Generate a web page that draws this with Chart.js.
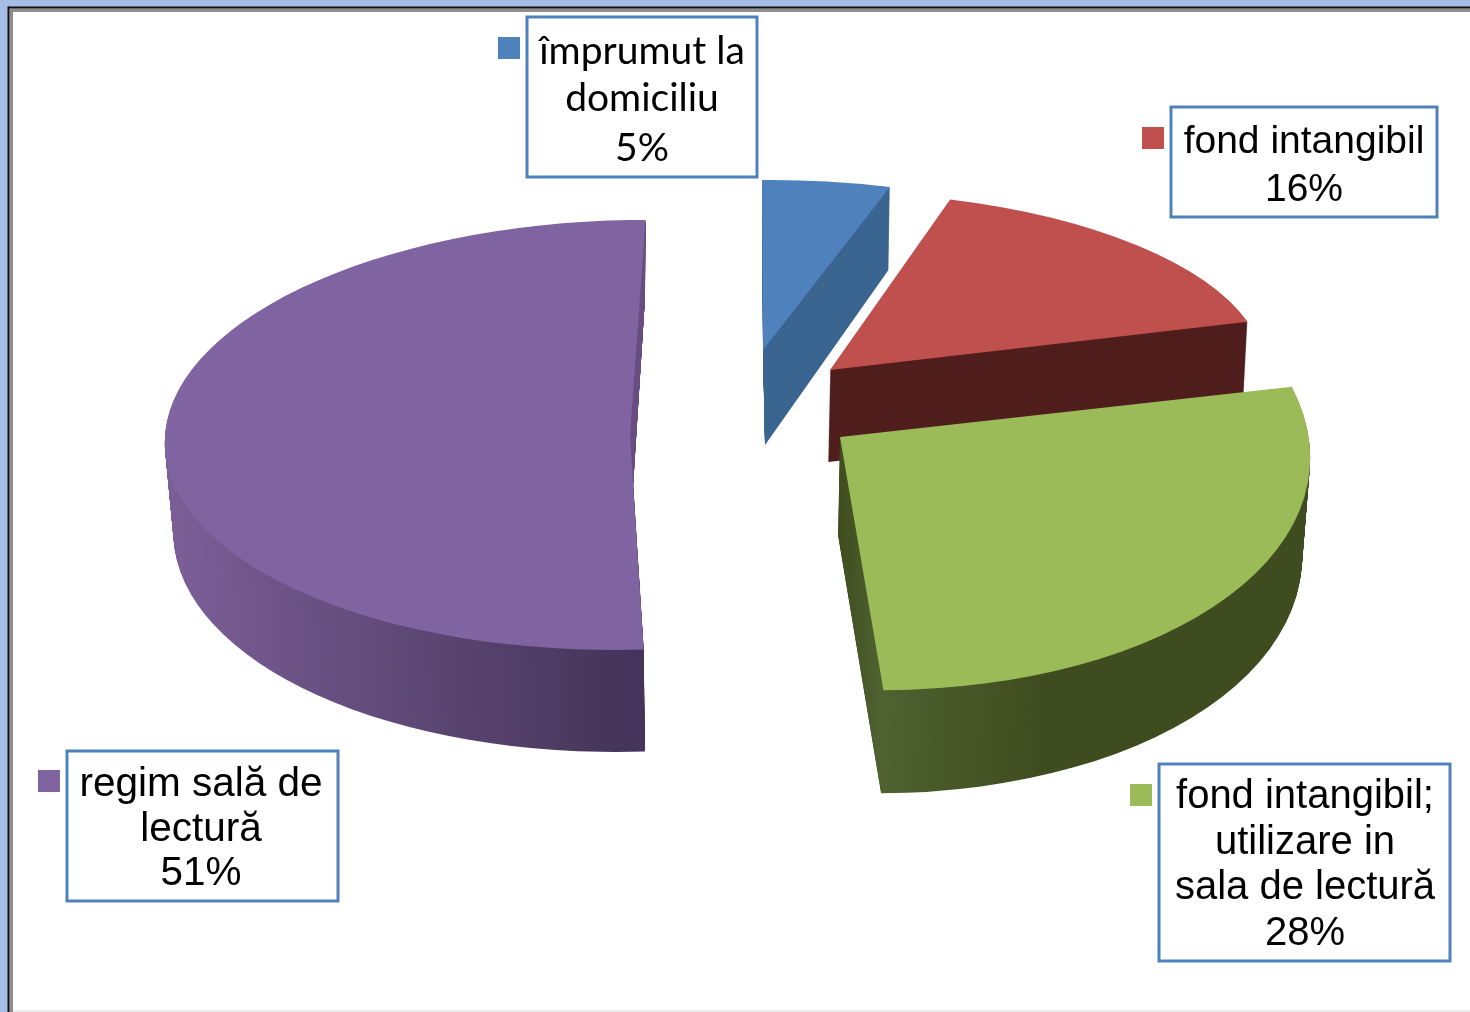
<!DOCTYPE html>
<html><head><meta charset="utf-8">
<script src="https://cdn.jsdelivr.net/npm/chart.js@4"></script>
<style>html,body{margin:0;padding:0;background:#fff;overflow:hidden}canvas{display:block;filter:blur(0.6px)}</style>
</head><body>
<canvas id="c" width="1470" height="1012"></canvas>
<script>
// DATA
const categories = ['împrumut la domiciliu', 'fond intangibil', 'fond intangibil; utilizare in sala de lectură', 'regim sală de lectură'];
const shares = [5, 16, 28, 51];
const labelLines = [['împrumut la', 'domiciliu'], ['fond intangibil'], ['fond intangibil;', 'utilizare in', 'sala de lectură'], ['regim sală de', 'lectură']];

// STYLE
const topColors = ['#4F81BD', '#C0504D', '#9BBB59', '#8064A2'];
const drawOrder = [3, 0, 1, 2];
// 3D projection of each exploded slice: top face and bottom face (apex, right axis, up axis)
const projection = [
  {top: {a: [763, 350], u: [414, -4], v: [-1, -170]},   bot: {a: [765, 445], u: [400, -4], v: [0, -183]}},
  {top: {a: [830, 370], u: [435, -4], v: [-15, -178]},  bot: {a: [828, 462], u: [432, -4], v: [-15, -170]}},
  {top: {a: [840, 437], u: [470, 13], v: [-14, -253]},  bot: {a: [838, 535], u: [464, 13], v: [-14, -258]}},
  {top: {a: [630, 435], u: [465, 0], v: [15.5, -215]},  bot: {a: [630.6, 525], u: [457, 0], v: [14.4, -227]}}
];
const wallStops = [
  [[0, '#3B6591'], [1, '#3B6591']],
  [[0, '#4F1D1B'], [1, '#4F1D1B']],
  [[0, '#3F4C1F'], [0.5, '#3F4C1F'], [0.53, '#4F6230'], [0.7, '#3F4C1F'], [1, '#3F4C1F']],
  [[0, '#7C5F98'], [0.5, '#46355A'], [1, '#46355A']]
];
const backWallColors = [null, null, null, '#6B5085'];
const boxes = [
  {x: 527, y: 17, w: 230, h: 160, key: [498, 37], lines: [51, 98, 148], cx: 642, font: '39px Lato'},
  {x: 1171, y: 107, w: 266, h: 110, key: [1142, 127], lines: [142, 190], cx: 1304, font: '39px "Liberation Sans"'},
  {x: 1159, y: 764, w: 291, h: 197, key: [1130, 784], lines: [797, 843, 888, 934], cx: 1305, font: '40px "Liberation Sans"'},
  {x: 67, y: 751, w: 271, h: 150, key: [38, 770], lines: [785, 830, 874], cx: 201, font: '40.5px "Liberation Sans"'}
];

function place(ctx, arc, f) {
  const R = arc.outerRadius;
  ctx.transform(f.u[0] / R, f.u[1] / R, -f.v[0] / R, -f.v[1] / R, f.a[0], f.a[1]);
  ctx.translate(-arc.x, -arc.y);
}
function mix(p, q, t) { return p.map((n, i) => n + (q[i] - n) * t); }

const pie3d = {
  id: 'pie3d',
  beforeDraw(chart) {
    const {ctx, width, height} = chart;
    ctx.save();
    ctx.fillStyle = '#fff'; ctx.fillRect(0, 0, width, height);
    ctx.fillStyle = '#A6BDE6'; ctx.fillRect(0, 0, width, 7); ctx.fillRect(0, 0, 8, height);
    ctx.fillStyle = '#8E8E8E'; ctx.fillRect(8, 8, width, 4); ctx.fillRect(9, 8, 4, height);
    ctx.fillStyle = '#111'; ctx.fillRect(8, 6.5, width, 1.8); ctx.fillRect(7.5, 6.5, 1.8, height);
    ctx.fillStyle = '#EAEAEA'; ctx.fillRect(13, 1010, width, 2);
    ctx.restore();
  },
  beforeDatasetsDraw(chart) {
    const {ctx} = chart;
    const arcs = chart.getDatasetMeta(0).data;
    const steps = 110;
    const sweep = (arc, P, backOnly) => {
      for (let s = steps; s > 0; s--) {
        const t = s / steps;
        ctx.save();
        place(ctx, arc, {a: mix(P.top.a, P.bot.a, t), u: mix(P.top.u, P.bot.u, t), v: mix(P.top.v, P.bot.v, t)});
        if (backOnly) {
          const R = arc.outerRadius;
          ctx.beginPath(); ctx.rect(arc.x - 0.2 * R, arc.y - R, 1.2 * R, R); ctx.clip();
        }
        arc.draw(ctx);
        ctx.restore();
      }
    };
    drawOrder.forEach(i => {
      const arc = arcs[i], P = projection[i], base = arc.options;
      const R = arc.outerRadius;
      const grad = ctx.createLinearGradient(arc.x - R, 0, arc.x + R, 0);
      wallStops[i].forEach(([s, c]) => grad.addColorStop(s, c));
      const wall = Object.create(base); wall.backgroundColor = grad;
      arc.options = wall;
      sweep(arc, P, false);
      if (backWallColors[i]) {
        const back = Object.create(base); back.backgroundColor = backWallColors[i];
        arc.options = back;
        sweep(arc, P, true);
      }
      arc.options = base;
      ctx.save();
      place(ctx, arc, P.top);
      arc.draw(ctx);
      ctx.restore();
    });
    return false;
  },
  afterDraw(chart) {
    const {ctx} = chart;
    ctx.save();
    boxes.forEach((b, i) => {
      ctx.fillStyle = '#fff'; ctx.fillRect(b.x, b.y, b.w, b.h);
      ctx.strokeStyle = '#4F81BD'; ctx.lineWidth = 3; ctx.strokeRect(b.x, b.y, b.w, b.h);
      ctx.fillStyle = topColors[i]; ctx.fillRect(b.key[0], b.key[1], 22, 22);
      ctx.fillStyle = '#000'; ctx.font = b.font; ctx.textAlign = 'center'; ctx.textBaseline = 'middle';
      const text = [...labelLines[i], shares[i] + '%'];
      text.forEach((t, n) => ctx.fillText(t, b.cx, b.lines[n]));
    });
    ctx.restore();
  }
};

new Chart(document.getElementById('c'), {
  type: 'pie',
  data: {labels: categories, datasets: [{data: shares, backgroundColor: topColors, borderWidth: 0}]},
  options: {
    responsive: false, animation: false,
    plugins: {legend: {display: false}, tooltip: {enabled: false}}
  },
  plugins: [pie3d]
});
</script>
</body></html>
